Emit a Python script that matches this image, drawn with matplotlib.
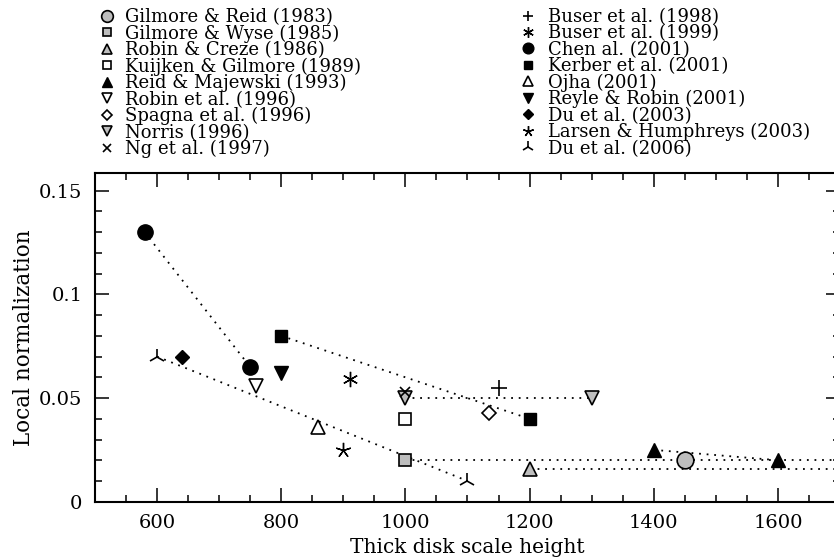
import matplotlib
matplotlib.use("Agg")
import matplotlib.pyplot as plt
from matplotlib.ticker import MultipleLocator, FuncFormatter

plt.rcParams['font.family'] = ['DejaVu Serif']

# ---- data: (scale height, local normalization) ----
gilmore_reid_x, gilmore_reid_y = [1450], [0.020]
gilmore_wyse_x, gilmore_wyse_y = [1000], [0.020]
robin_creze_x, robin_creze_y = [1200], [0.016]
kuijken_x, kuijken_y = [1000], [0.040]
reid_maj_x, reid_maj_y = [1400, 1600], [0.025, 0.020]
robin96_x, robin96_y = [760], [0.056]
spagna_x, spagna_y = [1135], [0.043]
norris_x, norris_y = [1000, 1300], [0.050, 0.050]
ng_x, ng_y = [1000], [0.053]
buser98_x, buser98_y = [1150], [0.055]
buser99_x, buser99_y = [910], [0.059]
chen_x, chen_y = [580, 750], [0.130, 0.065]
kerber_x, kerber_y = [800, 1200], [0.080, 0.040]
ojha_x, ojha_y = [860], [0.036]
reyle_x, reyle_y = [800], [0.062]
du03_x, du03_y = [640], [0.070]
larsen_x, larsen_y = [900], [0.025]
du06_x, du06_y = [600, 1100], [0.070, 0.010]

# open-ended ranges (extend beyond the plotted range)
gilmore_wyse_range_x, gilmore_wyse_range_y = [1000, 1800], [0.020, 0.020]
robin_creze_range_x, robin_creze_range_y = [1200, 1800], [0.016, 0.016]

GRAY = '#bebebe'

fig = plt.figure(figsize=(8.34, 5.58), dpi=100)
ax = fig.add_axes([95/834, 1-501.7/558, 745/834, 329/558])
ax.set_xlim(500, 1700)
ax.set_ylim(0, 0.1587)

dot = dict(color='black', linestyle=(0, (1, 3.2)), linewidth=1.3, zorder=1)
for xs, ys in [(chen_x, chen_y), (kerber_x, kerber_y), (norris_x, norris_y),
               (du06_x, du06_y), (reid_maj_x, reid_maj_y),
               (gilmore_wyse_range_x, gilmore_wyse_range_y),
               (robin_creze_range_x, robin_creze_range_y)]:
    ax.plot(xs, ys, **dot)

series = [
    # label, x, y, marker, size, face, edge width
    ('Gilmore & Reid (1983)', gilmore_reid_x, gilmore_reid_y, 'o', 12, GRAY, 1.2),
    ('Gilmore & Wyse (1985)', gilmore_wyse_x, gilmore_wyse_y, 's', 8.5, GRAY, 1.2),
    ('Robin & Creze (1986)', robin_creze_x, robin_creze_y, '^', 10, GRAY, 1.2),
    ('Kuijken & Gilmore (1989)', kuijken_x, kuijken_y, 's', 8.5, 'white', 1.2),
    ('Reid & Majewski (1993)', reid_maj_x, reid_maj_y, '^', 9.5, 'black', 1.0),
    ('Robin et al. (1996)', robin96_x, robin96_y, 'v', 10.5, 'white', 1.2),
    ('Spagna et al. (1996)', spagna_x, spagna_y, 'D', 7.5, 'white', 1.2),
    ('Norris (1996)', norris_x, norris_y, 'v', 10, GRAY, 1.2),
    ('Ng et al. (1997)', ng_x, ng_y, 'x', 7.5, 'none', 1.2),
    ('Buser et al. (1998)', buser98_x, buser98_y, '+', 11, 'none', 1.2),
    ('Buser et al. (1999)', buser99_x, buser99_y, (6, 2, 0), 11, 'none', 1.0),
    ('Chen al. (2001)', chen_x, chen_y, 'o', 11, 'black', 1.0),
    ('Kerber et al. (2001)', kerber_x, kerber_y, 's', 8, 'black', 1.0),
    ('Ojha (2001)', ojha_x, ojha_y, '^', 10.5, 'white', 1.2),
    ('Reyle & Robin (2001)', reyle_x, reyle_y, 'v', 9.5, 'black', 1.0),
    ('Du et al. (2003)', du03_x, du03_y, 'D', 7.3, 'black', 1.0),
    ('Larsen & Humphreys (2003)', larsen_x, larsen_y, (5, 2, 0), 11, 'none', 1.0),
    ('Du et al. (2006)', du06_x, du06_y, '2', 12, 'none', 1.2),
]

handles = []
for lab, xs, ys, mk, ms, fc, ew in series:
    h, = ax.plot(xs, ys, linestyle='none', marker=mk, markersize=ms,
                 markerfacecolor=fc, markeredgecolor='black',
                 markeredgewidth=ew, color='black', label=lab, zorder=3)
    handles.append(h)

ax.xaxis.set_major_locator(MultipleLocator(200))
ax.xaxis.set_minor_locator(MultipleLocator(50))
ax.yaxis.set_major_locator(MultipleLocator(0.05))
ax.yaxis.set_minor_locator(MultipleLocator(0.01))
ax.yaxis.set_major_formatter(FuncFormatter(lambda v, p: '%g' % round(v, 4)))
ax.xaxis.set_major_formatter(FuncFormatter(lambda v, p: '' if v < 600 else '%d' % v))
ax.tick_params(which='both', direction='in', top=True, right=True,
               labelsize=14, width=1.1)
ax.tick_params(axis='x', pad=9)
ax.tick_params(axis='y', pad=9)
ax.tick_params(which='major', length=10)
ax.tick_params(which='minor', length=5)
for s in ax.spines.values():
    s.set_linewidth(1.5)
ax.spines['right'].set_visible(False)

ax.set_xlabel('Thick disk scale height', fontsize=14.5, labelpad=4)
ax.set_ylabel('Local normalization', fontsize=15.5, labelpad=3)

common = dict(loc='upper left', bbox_transform=fig.transFigure,
              frameon=False, fontsize=13, markerscale=0.7, numpoints=1,
              handlelength=1.0, labelspacing=-0.09, borderpad=0,
              borderaxespad=0)
leg1 = fig.legend(handles=handles[:9], bbox_to_anchor=(98/834, 1-8/558),
                  handletextpad=0.5, **common)
leg2 = fig.legend(handles=handles[9:], bbox_to_anchor=(519/834, 1-8/558),
                  handletextpad=0.6, **common)

fig.savefig('out.png', dpi=100)
